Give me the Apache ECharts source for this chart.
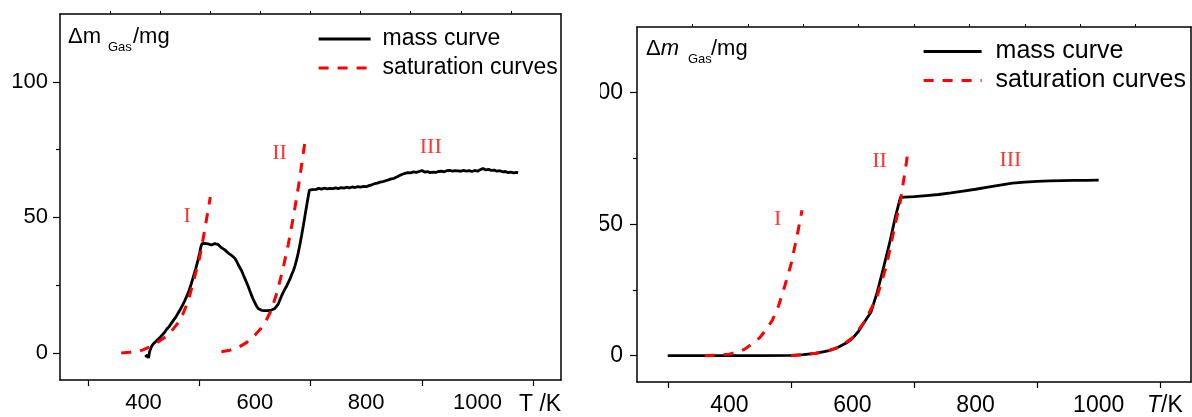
<!DOCTYPE html>
<html>
<head>
<meta charset="utf-8">
<script src="https://cdn.jsdelivr.net/npm/echarts@6/dist/echarts.min.js"></script>
<style>
html,body{margin:0;padding:0;background:#fff;}
#chart{width:1192px;height:417px;}
</style>
</head>
<body>
<div id="chart"></div>
<script>
// ---------- data (T in K, Δm in mg) ----------
const xLabelValues = [400, 600, 800, 1000];
const xTickValues = [300, 500, 700, 900, 1100];
const xTopTickValues = [340, 430, 520, 610, 700, 790, 880, 970, 1060];
const yLabelValues = [0, 50, 100];
const yMinorTickValues = [25, 75];
const seriesNames = ['mass curve', 'saturation curves'];

// Left panel: measured mass curve (noisy)
const leftMass = [
[403,-1.5],[405,-2.2],[407,-0.8],[409,-1.9],[411,0.5],[413,1.2],[415,2.6],[418,3.4],[421,4.1],[424,4.6],[427,5.3],[430,5.8],
[434,6.7],[438,7.6],[442,8.8],[446,9.7],[450,10.9],[454,12.1],[458,13.2],[462,14.6],[466,16.0],[470,17.5],[474,19.2],[478,21.0],
[482,23.1],[486,25.6],[490,28.4],[494,31.2],[498,34.3],[501,37.0],[503,39.0],[505,40.3],[507,40.8],[510,40.4],[513,40.6],[516,40.2],
[519,40.1],[522,39.8],[525,39.9],[528,40.3],[531,39.7],[534,40.0],[537,39.6],[540,38.8],[543,38.5],[546,38.0],[549,37.4],[552,36.9],
[555,36.6],[558,36.0],[561,35.3],[564,34.9],[567,33.9],[570,32.6],[573,31.5],[576,30.4],[579,28.9],[582,27.5],[585,26.0],[588,24.6],
[591,22.9],[594,21.3],[597,19.8],[600,18.5],[603,17.3],[606,16.4],[609,15.9],[612,15.7],[615,15.5],[618,15.6],[621,15.4],[624,15.6],
[627,15.5],[630,15.8],[633,16.0],[636,16.4],[639,17.0],[642,18.0],[645,19.5],[648,21.0],[651,22.3],[654,23.5],[657,24.6],[660,25.9],
[663,27.2],[666,28.8],[669,30.2],[672,32.0],[675,34.3],[678,36.9],[681,40.0],[684,43.3],[687,46.8],[690,50.5],[693,54.2],[696,57.8],
[698,60.0],[700,60.6],[703,60.2],[706,60.5],[710,60.3],[715,60.7],[720,60.4],[725,60.8],[730,60.5],[735,60.7],[740,60.6],[745,60.9],
[750,60.6],[755,61.0],[760,60.8],[765,61.1],[770,60.9],[775,61.2],[780,61.0],[785,61.3],[790,61.1],[795,61.4],[800,61.3],[805,61.7],
[810,62.0],[815,62.4],[820,62.6],[825,63.0],[830,63.2],[835,63.5],[840,63.8],[845,64.2],[850,64.4],[855,64.9],[860,65.4],[865,65.9],
[870,66.2],[875,66.5],[880,66.4],[885,66.8],[890,66.6],[895,66.9],[900,67.3],[905,66.7],[910,66.9],[915,66.5],[920,66.7],[925,66.6],
[930,66.9],[935,67.0],[940,66.8],[945,67.2],[950,67.3],[955,67.0],[960,67.2],[965,67.1],[970,67.0],[975,67.3],[980,67.0],[985,67.2],
[990,66.9],[995,67.3],[1000,67.0],[1005,67.6],[1010,68.0],[1015,67.5],[1020,67.7],[1025,67.3],[1030,67.4],[1035,67.0],[1040,67.2],
[1045,66.8],[1050,66.9],[1055,66.5],[1060,66.7],[1065,66.4],[1070,66.6],[1073,66.5]
];
const leftSatI = [[360,0],[375,0.2],[390,0.5],[400,1.2],[410,2.1],[420,3.2],[430,4.6],[440,6.0],[450,8.0],[460,10.5],[470,14.0],
[480,19.0],[490,26.5],[500,34.5],[505,39.5],[510,45.5],[515,51.5],[520,57.5]];
const leftSatII = [[540,0.4],[555,1.0],[570,2.0],[585,3.8],[600,6.5],[610,8.8],[620,11.8],[630,16.0],[640,22.5],[650,30.5],
[660,40.0],[670,51.0],[680,63.5],[688,75.0],[690,78.0]];
const leftRoman = [[478.6,50.5,'I'],[644.5,73.8,'II'],[916,76,'III']];

// Right panel: model mass curve
const rightMass = [[300,0],[350,0],[400,0],[450,0],[500,0.1],[520,0.4],[540,0.9],[560,1.8],[575,3.0],[590,4.8],[600,6.6],
[610,9.3],[620,13.0],[630,16.5],[640,24.0],[650,33.0],[660,42.5],[670,53.0],[678,60.2],[680,60.3],[700,60.5],[720,60.9],
[740,61.3],[760,61.9],[780,62.6],[800,63.3],[820,64.1],[840,64.9],[860,65.6],[880,66.0],[900,66.3],[920,66.5],[940,66.6],
[960,66.7],[980,66.7],[1000,66.8]];
const rightSatI = [[360,0],[380,0.2],[400,0.6],[415,1.5],[425,2.5],[440,5.0],[450,7.0],[460,10.0],[470,13.5],[480,19.0],
[490,26.5],[500,34.6],[510,45.5],[518,55.3]];
const rightSatII = [[500,0],[520,0.3],[540,0.9],[560,1.8],[580,3.5],[600,6.8],[620,13.0],[640,22.5],[655,34.0],[668,48.4],
[678,59.0],[684,68.0],[688,74.0],[690,78.0]];
const rightRoman = [[478.6,51.8,'I'],[644,74,'II'],[856.6,74.3,'III']];

// ---------- styling helpers ----------
const SANS = '"Liberation Sans", Arial, Helvetica, sans-serif';
const SERIF = '"Liberation Serif", "Times New Roman", serif';
const plain = v => String(v);

function bottomX(grid, fs) {
  return {
    gridIndex: grid, type: 'value', min: 250, max: 1150, position: 'bottom',
    axisLine: {show: true, onZero: false, lineStyle: {color: '#000', width: 1.5}},
    axisTick: {show: true, inside: false, length: 6, customValues: xTickValues, lineStyle: {color: '#000', width: 1.2}},
    axisLabel: {show: true, customValues: xLabelValues, formatter: plain, fontSize: fs, color: '#000', fontFamily: SANS, margin: 12},
    splitLine: {show: false}
  };
}
function topX(grid) {
  return {
    gridIndex: grid, type: 'value', min: 250, max: 1150, position: 'top',
    axisLine: {show: true, onZero: false, lineStyle: {color: '#000', width: 1.5}},
    axisTick: {show: true, inside: false, length: 3, customValues: xTopTickValues, lineStyle: {color: '#000', width: 1}},
    axisLabel: {show: false}, splitLine: {show: false}
  };
}
function leftY(grid, fs, margin) {
  return {
    gridIndex: grid, type: 'value', min: -10, max: 125, position: 'left',
    axisLine: {show: true, onZero: false, lineStyle: {color: '#000', width: 1.5}},
    axisTick: {show: true, inside: false, length: 7, customValues: yLabelValues, lineStyle: {color: '#000', width: 1.2}},
    axisLabel: {show: true, customValues: yLabelValues, formatter: plain, fontSize: fs, color: '#000', fontFamily: SANS, margin: margin},
    splitLine: {show: false}
  };
}
function leftYMinor(grid) {
  return {
    gridIndex: grid, type: 'value', min: -10, max: 125, position: 'left', offset: 0,
    axisLine: {show: false},
    axisTick: {show: true, inside: false, length: 4, customValues: yMinorTickValues, lineStyle: {color: '#000', width: 1.2}},
    axisLabel: {show: false}, splitLine: {show: false}
  };
}
function rightY(grid) {
  return {
    gridIndex: grid, type: 'value', min: -10, max: 125, position: 'right',
    axisLine: {show: true, onZero: false, lineStyle: {color: '#000', width: 1.5}},
    axisTick: {show: false}, axisLabel: {show: false}, splitLine: {show: false}
  };
}
function massSeries(xi, yi, data) {
  return {name: seriesNames[0], type: 'line', xAxisIndex: xi, yAxisIndex: yi, data: data,
    symbol: 'none', showSymbol: false, z: 3, silent: true, animation: false,
    lineStyle: {color: '#000', width: 2.8}, itemStyle: {color: '#000'}};
}
function satSeries(xi, yi, data) {
  return {name: seriesNames[1], type: 'line', xAxisIndex: xi, yAxisIndex: yi, data: data,
    symbol: 'none', showSymbol: false, z: 4, silent: true, animation: false,
    lineStyle: {color: '#ff0000', width: 3, type: [10, 9]}, itemStyle: {color: '#ff0000'}};
}
function romanSeries(xi, yi, data) {
  return {type: 'scatter', xAxisIndex: xi, yAxisIndex: yi, data: data, symbolSize: 1,
    itemStyle: {color: 'rgba(0,0,0,0)'}, silent: true, animation: false, z: 5,
    label: {show: true, position: 'inside', formatter: p => p.data[2],
      fontFamily: SERIF, fontSize: 22, color: '#ff0000'}};
}

const option = {
  backgroundColor: '#fff',
  animation: false,
  grid: [
    {left: 60, top: 14, right: 631, bottom: 37},
    {left: 637, top: 27, right: 1, bottom: 32}
  ],
  xAxis: [bottomX(0, 22), topX(0), bottomX(1, 23), topX(1)],
  yAxis: [leftY(0, 22, 12), leftYMinor(0), rightY(0), leftY(1, 23, 14), leftYMinor(1), rightY(1)],
  legend: [
    {data: seriesNames, orient: 'vertical', left: 312, top: 22, itemWidth: 52, itemHeight: 14, itemGap: 5,
      selectedMode: false, itemStyle: {opacity: 0}, lineStyle: {width: 3.2},
      textStyle: {fontSize: 23, lineHeight: 24, color: '#000', fontFamily: SANS, padding: [0, 0, 0, 7]}},
    {data: seriesNames, orient: 'vertical', left: 917, top: 34, itemWidth: 58, itemHeight: 14, itemGap: 4,
      selectedMode: false, itemStyle: {opacity: 0}, lineStyle: {width: 3.2},
      textStyle: {fontSize: 25, lineHeight: 25, color: '#000', fontFamily: SANS, padding: [0, 0, 0, 9]}}
  ],
  series: [
    massSeries(0, 0, leftMass), satSeries(0, 0, leftSatI), satSeries(0, 0, leftSatII), romanSeries(0, 0, leftRoman),
    massSeries(2, 3, rightMass), satSeries(2, 3, rightSatI), satSeries(2, 3, rightSatII), romanSeries(2, 3, rightRoman)
  ],
  graphic: [
    // crop edge of the right panel (its y labels are cut off in the original)
    {type: 'rect', z: 100, silent: true, shape: {x: 566, y: 0, width: 34, height: 417}, style: {fill: '#fff'}},
    // left y title
    {type: 'text', z: 101, x: 68, y: 37, style: {text: 'Δm', font: '22px ' + SANS, fill: '#000', textVerticalAlign: 'middle'}},
    {type: 'text', z: 101, x: 108, y: 47, style: {text: 'Gas', font: '13px ' + SANS, fill: '#000', textVerticalAlign: 'middle'}},
    {type: 'text', z: 101, x: 133, y: 37, style: {text: '/mg', font: '22px ' + SANS, fill: '#000', textVerticalAlign: 'middle'}},
    // right y title
    {type: 'text', z: 101, x: 646, y: 49, style: {text: '{n|Δ}{i|m}', textVerticalAlign: 'middle',
      rich: {n: {fontSize: 22, fontFamily: SANS, fill: '#000', color: '#000'},
             i: {fontSize: 22, fontFamily: SANS, fontStyle: 'italic', fill: '#000', color: '#000'}}}},
    {type: 'text', z: 101, x: 688, y: 59, style: {text: 'Gas', font: '13px ' + SANS, fill: '#000', textVerticalAlign: 'middle'}},
    {type: 'text', z: 101, x: 711, y: 49, style: {text: '/mg', font: '22px ' + SANS, fill: '#000', textVerticalAlign: 'middle'}},
    // x titles
    {type: 'text', z: 101, x: 519, y: 405, style: {text: 'T /K', font: '23px ' + SANS, fill: '#000', textVerticalAlign: 'middle'}},
    {type: 'text', z: 101, x: 1147, y: 406, style: {text: '{i|T}{n|/K}', textVerticalAlign: 'middle',
      rich: {n: {fontSize: 23, fontFamily: SANS, fill: '#000', color: '#000'},
             i: {fontSize: 23, fontFamily: SANS, fontStyle: 'italic', fill: '#000', color: '#000'}}}}
  ]
};

const chart = echarts.init(document.getElementById('chart'), null, {renderer: 'canvas'});
chart.setOption(option);
</script>
</body>
</html>
